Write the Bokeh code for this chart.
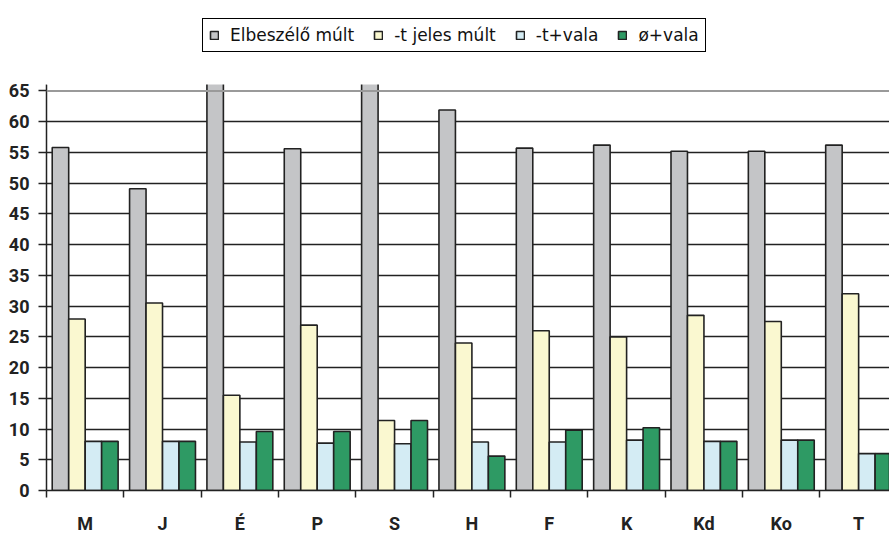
from bokeh.plotting import figure
from bokeh.models import (ColumnDataSource, Range1d, FixedTicker, Legend, LegendItem, Span,
                          BoxAnnotation)
from bokeh.transform import dodge
from bokeh.embed import file_html
from bokeh.resources import INLINE

# ---- data ----
categories = ["M", "J", "É", "P", "S", "H", "F", "K", "Kd", "Ko", "T"]
elbeszelo_mult = [55.8, 49.1, 70.0, 55.6, 70.0, 61.9, 55.7, 56.2, 55.2, 55.2, 56.2]
t_jeles_mult = [27.9, 30.5, 15.5, 26.9, 11.4, 24.0, 26.0, 25.0, 28.5, 27.5, 32.0]
t_vala = [8.0, 8.0, 7.9, 7.7, 7.6, 7.9, 7.9, 8.2, 8.0, 8.2, 6.0]
o_vala = [8.0, 8.0, 9.6, 9.6, 11.4, 5.6, 9.8, 10.2, 8.0, 8.2, 6.0]
series_labels = ["Elbeszélő múlt", "-t jeles múlt", "-t+vala", "ø+vala"]
y_ticks = list(range(0, 70, 5))

colors = ["#C4C5C7", "#FAF8D0", "#D4ECF4", "#2E9A64"]
edge = "#222222"
axis_font = "Roboto"

plot_top = 66.06      # top of the value area (bars are cut here)
view_top = 77.12      # extra room above it for the legend

n = len(categories)
src = ColumnDataSource(dict(
    x=list(range(n)),
    elb=elbeszelo_mult, tj=t_jeles_mult, tv=t_vala, ov=o_vala,
))

p = figure(width=889, height=536,
           x_range=Range1d(-0.5, 10.399), y_range=Range1d(0, view_top),
           output_backend="svg", toolbar_location=None,
           min_border_left=46, min_border_top=16, min_border_right=0, min_border_bottom=46)
p.outline_line_color = None
p.background_fill_color = "white"

w = 0.213
renderers = []
for i, col in enumerate(["elb", "tj", "tv", "ov"]):
    r = p.vbar(x=dodge("x", (i - 1.5) * w, range=p.x_range), top=col, width=w, bottom=0,
               source=src, fill_color=colors[i], line_color=edge, line_width=1.6)
    renderers.append(r)

# white mask above the value area so tall bars look cut off
p.add_layout(BoxAnnotation(bottom=plot_top, fill_color="white", fill_alpha=1, line_color=None))

# grid
p.xgrid.visible = False
p.ygrid.ticker = FixedTicker(ticks=y_ticks[1:-1])
p.ygrid.grid_line_color = edge
p.ygrid.grid_line_width = 1.5
p.add_layout(Span(location=y_ticks[-1], dimension="width", line_color="#9A9A9A", line_width=2))

# y axis
p.yaxis.ticker = FixedTicker(ticks=y_ticks, minor_ticks=[])
p.yaxis.bounds = (0, plot_top)
p.yaxis.major_tick_out = 8
p.yaxis.major_tick_in = 0
p.yaxis.major_tick_line_color = edge
p.yaxis.major_tick_line_width = 1.5
p.yaxis.axis_line_color = edge
p.yaxis.axis_line_width = 1.5
p.yaxis.major_label_standoff = 9
p.yaxis.major_label_text_font = axis_font
p.yaxis.major_label_text_font_style = "bold"
p.yaxis.major_label_text_font_size = "18px"
p.yaxis.major_label_text_color = edge

# x axis: labels at centres, ticks at boundaries
centers = list(range(n))
bounds = [c - 0.5 for c in centers] + [n - 0.5]
p.xaxis.ticker = FixedTicker(ticks=centers, minor_ticks=bounds)
p.xaxis.major_label_overrides = {c: categories[c] for c in centers}
p.xaxis.major_tick_out = 0
p.xaxis.major_tick_in = 0
p.xaxis.major_tick_line_color = None
p.xaxis.minor_tick_out = 7
p.xaxis.minor_tick_in = 0
p.xaxis.minor_tick_line_color = edge
p.xaxis.minor_tick_line_width = 1.5
p.xaxis.axis_line_color = edge
p.xaxis.axis_line_width = 1.5
p.xaxis.major_label_standoff = 15
p.xaxis.major_label_text_font = axis_font
p.xaxis.major_label_text_font_style = "bold"
p.xaxis.major_label_text_font_size = "18px"
p.xaxis.major_label_text_color = edge

legend = Legend(
    items=[LegendItem(label=series_labels[i], renderers=[renderers[i]]) for i in range(4)],
    orientation="horizontal", location=(156, 438),
    glyph_width=10, glyph_height=10, label_height=17, label_standoff=11,
    spacing=19, padding=6, margin=0,
    border_line_color="#000000", border_line_width=1.5, border_line_alpha=1,
    background_fill_color="white", background_fill_alpha=1,
    label_text_font="DejaVu Sans", label_text_font_size="17px", label_text_color="#111111",
)
p.add_layout(legend, "center")

open("out.html", "w").write(file_html(p, INLINE))
